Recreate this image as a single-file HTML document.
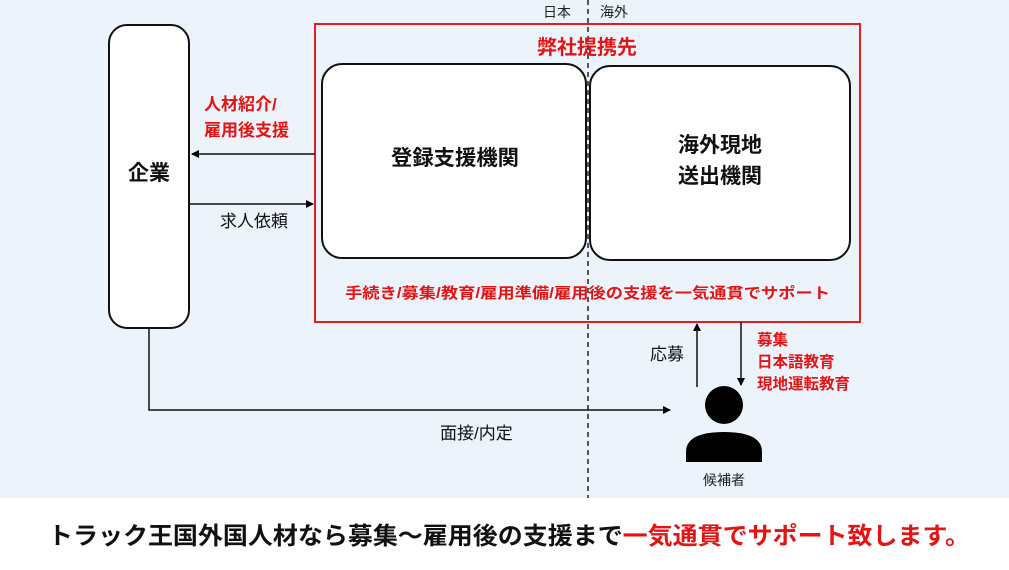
<!DOCTYPE html>
<html><head><meta charset="utf-8">
<style>
html,body{margin:0;padding:0;background:#fff}
svg{display:block}
text{font-family:"Liberation Sans","Noto Sans CJK JP",sans-serif}
</style></head>
<body>
<svg width="1009" height="570" viewBox="0 0 1009 570" xmlns="http://www.w3.org/2000/svg">
<defs>
<marker id="ah" markerWidth="8" markerHeight="8" refX="7" refY="4" orient="auto" markerUnits="userSpaceOnUse">
<path d="M0,0 L8,4 L0,8 z" fill="#000"/>
</marker>
</defs>
<rect x="0" y="0" width="1009" height="498" fill="#edf3fb"/>
<rect x="0" y="498" width="1009" height="72" fill="#fff"/>
<line x1="588" y1="0" x2="588" y2="498" stroke="#222" stroke-width="1.5" stroke-dasharray="5,4"/>
<text x="557" y="17" font-size="14" fill="#222" text-anchor="middle">日本</text>
<text x="614" y="17" font-size="14" fill="#222" text-anchor="middle">海外</text>
<rect x="315" y="24" width="545" height="298" fill="none" stroke="#e02020" stroke-width="2"/>
<text x="587" y="54" font-size="20" font-weight="bold" fill="#e51414" text-anchor="middle">弊社提携先</text>
<rect x="109" y="25" width="80" height="303" rx="18" fill="#fff" stroke="#111" stroke-width="2"/>
<text x="149" y="180" font-size="21" font-weight="bold" fill="#111" text-anchor="middle">企業</text>
<rect x="322" y="64" width="264" height="194" rx="20" fill="#fff" stroke="#111" stroke-width="2"/>
<text x="455" y="165" font-size="21" font-weight="bold" fill="#111" text-anchor="middle" textLength="128" lengthAdjust="spacingAndGlyphs">登録支援機関</text>
<rect x="590" y="66" width="260" height="194" rx="20" fill="#fff" stroke="#111" stroke-width="2"/>
<text x="720" y="152" font-size="21" font-weight="bold" fill="#111" text-anchor="middle">海外現地</text>
<text x="720" y="183" font-size="21" font-weight="bold" fill="#111" text-anchor="middle">送出機関</text>
<line x1="315" y1="154" x2="192" y2="154" stroke="#111" stroke-width="1.5" marker-end="url(#ah)"/>
<line x1="190" y1="204" x2="313" y2="204" stroke="#111" stroke-width="1.5" marker-end="url(#ah)"/>
<text x="204" y="110" font-size="17" font-weight="bold" fill="#e51414">人材紹介/</text>
<text x="204" y="136" font-size="17" font-weight="bold" fill="#e51414">雇用後支援</text>
<text x="220" y="227" font-size="17" fill="#111">求人依頼</text>
<text x="345" y="298" font-size="15" font-weight="bold" fill="#e51414" textLength="485" lengthAdjust="spacingAndGlyphs">手続き/募集/教育/雇用準備/雇用後の支援を一気通貫でサポート</text>
<polyline points="149,328 149,410 670,410" fill="none" stroke="#111" stroke-width="1.5" marker-end="url(#ah)"/>
<text x="440" y="439" font-size="17" fill="#111">面接/内定</text>
<line x1="697" y1="387" x2="697" y2="324" stroke="#111" stroke-width="1.5" marker-end="url(#ah)"/>
<text x="650" y="360" font-size="17" fill="#111">応募</text>
<line x1="741" y1="322" x2="741" y2="385" stroke="#111" stroke-width="1.5" marker-end="url(#ah)"/>
<text x="757" y="345" font-size="15.5" font-weight="bold" fill="#e51414">募集</text>
<text x="757" y="367" font-size="15.5" font-weight="bold" fill="#e51414">日本語教育</text>
<text x="757" y="389" font-size="15.5" font-weight="bold" fill="#e51414">現地運転教育</text>
<circle cx="724" cy="405" r="19" fill="#000"/>
<path d="M686,462 L686,452 Q686,432 724,432 Q762,432 762,452 L762,462 Z" fill="#000"/>
<text x="724" y="485" font-size="14" fill="#222" text-anchor="middle">候補者</text>
<text x="48" y="544" font-size="24" font-weight="bold" fill="#111" textLength="922" lengthAdjust="spacingAndGlyphs">トラック王国外国人材なら募集～雇用後の支援まで<tspan fill="#e51414">一気通貫でサポート致します。</tspan></text>
</svg>
</body></html>
